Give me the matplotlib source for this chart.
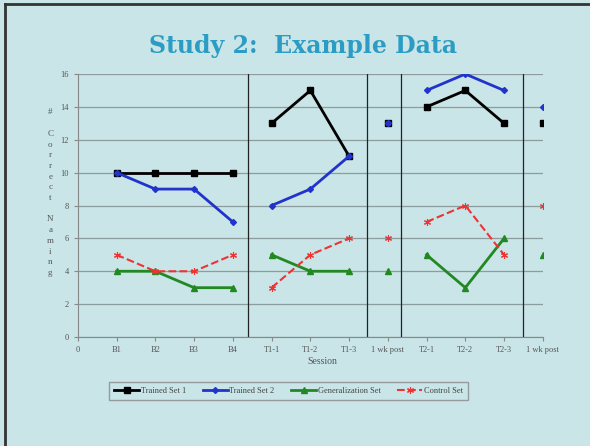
import matplotlib.pyplot as plt
from matplotlib.lines import Line2D

sessions = ['0', 'B1', 'B2', 'B3', 'B4', 'T1-1', 'T1-2', 'T1-3',
            '1 wk post', 'T2-1', 'T2-2', 'T2-3', '1 wk post']

# scores per session slot (slot 0 is empty)
trained1 = [None, 10, 10, 10, 10, 13, 15, 11, 13, 14, 15, 13, 13]
trained2 = [None, 10, 9, 9, 7, 8, 9, 11, 13, 15, 16, 15, 14]
general = [None, 4, 4, 3, 3, 5, 4, 4, 4, 5, 3, 6, 5]
control = [None, 5, 4, 4, 5, 3, 5, 6, 6, 7, 8, 5, 8]

# which indices are joined by lines
segments = [[1, 2, 3, 4], [5, 6, 7], [8], [9, 10, 11], [12]]
dividers = [4.4, 7.45, 8.35, 11.5]

bg = '#c9e5e7'
fig = plt.figure(figsize=(5.9, 4.46), dpi=100, facecolor=bg)
plt.rcParams['font.family'] = ['Liberation Serif', 'DejaVu Serif']

# slide frame
fig.add_artist(Line2D([0.008, 0.008], [0.0, 0.99], transform=fig.transFigure,
                      color='#333333', lw=2))
fig.add_artist(Line2D([0.008, 1.0], [0.99, 0.99], transform=fig.transFigure,
                      color='#333333', lw=2))

fig.text(0.513, 0.897, 'Study 2:  Example Data', ha='center', va='center',
         fontsize=17, fontweight='bold', color='#2b9dc4', family='DejaVu Serif')

ax = fig.add_axes([0.132, 0.2444, 0.788, 0.5896])
ax.set_facecolor(bg)

styles = [
    (trained1, dict(color='black', marker='s', ms=5, lw=2, ls='-'), 'Trained Set 1'),
    (trained2, dict(color='#2233cc', marker='D', ms=3, lw=2, ls='-'), 'Trained Set 2'),
    (general, dict(color='#228822', marker='^', ms=5, lw=2, ls='-'), 'Generalization Set'),
    (control, dict(color='#ee3333', marker=(6, 2, 0), ms=5, lw=1.5, ls='--', mew=0.8),
     'Control Set'),
]

for vals, st, name in styles:
    for k, seg in enumerate(segments):
        ys = [vals[i] for i in seg]
        kw = dict(st)
        if vals is trained1 and seg == [8]:
            kw['markerfacecolor'] = '#2a3fb0'
        ax.plot(seg, ys, label=name if k == 0 else None, zorder=3, **kw)

for xd in dividers:
    ax.plot([xd, xd], [0, 16], color='#222222', lw=0.9, zorder=2)

ax.set_xlim(0, 12)
ax.set_ylim(0, 16)
ax.set_xticks(range(len(sessions)))
ax.set_xticklabels(sessions)
ax.set_yticks(range(0, 17, 2))
ax.grid(axis='y', color='#8d9d9d', lw=0.9)
ax.set_axisbelow(True)
for s in ['top', 'right']:
    ax.spines[s].set_visible(False)
for s in ['left', 'bottom']:
    ax.spines[s].set_color('#888888')
ax.tick_params(labelsize=6, colors='#888888', labelcolor='#555555', length=3)
ax.set_xlabel('Session', fontsize=7, color='#555555')
ax.xaxis.set_label_coords(0.525, -0.075)

ylab = '\n'.join(list('#') + [''] + list('Correct') + [''] + list('Naming'))
fig.text(0.085, 0.568, ylab, ha='center', va='center', fontsize=6.5,
         color='#555555', linespacing=1.45)

leg = fig.legend(loc='center', bbox_to_anchor=(0.489, 0.123), ncol=4,
                 fontsize=6, frameon=True, fancybox=False, handlelength=3,
                 columnspacing=2.0, handletextpad=0.2, borderpad=0.6)
leg.get_frame().set_edgecolor('#888888')
leg.get_frame().set_facecolor(bg)
for t in leg.get_texts():
    t.set_color('#444444')

fig.savefig('out.png', dpi=100, facecolor=bg)
